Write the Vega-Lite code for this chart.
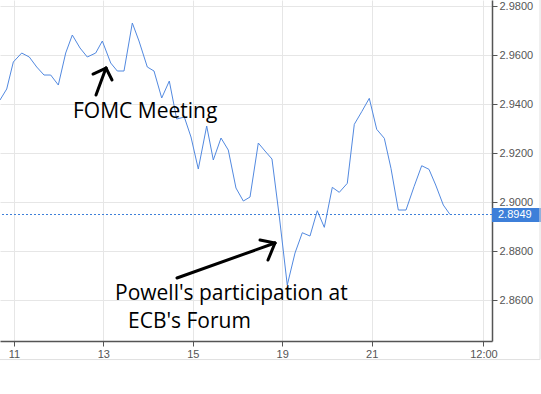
{
  "$schema": "https://vega.github.io/schema/vega-lite/v6.json",
  "width": 492,
  "height": 341,
  "autosize": "none",
  "padding": {"left": 0, "top": 0, "right": 49, "bottom": 53},
  "background": "white",
  "config": {"view": {"stroke": null}},
  "datasets": {
    "yield": [
      {"t": -0.311, "v": 2.94163}, {"t": -0.161, "v": 2.94612}, {"t": -0.013, "v": 2.95714}, {"t": 0.174, "v": 2.96081},
      {"t": 0.344, "v": 2.95918}, {"t": 0.510, "v": 2.9551}, {"t": 0.673, "v": 2.95183}, {"t": 0.823, "v": 2.95183},
      {"t": 0.993, "v": 2.94775}, {"t": 1.158, "v": 2.96081}, {"t": 1.306, "v": 2.96816}, {"t": 1.478, "v": 2.96286},
      {"t": 1.641, "v": 2.95918}, {"t": 1.829, "v": 2.96081}, {"t": 1.977, "v": 2.96571}, {"t": 2.165, "v": 2.95673},
      {"t": 2.312, "v": 2.95347}, {"t": 2.462, "v": 2.95347}, {"t": 2.648, "v": 2.97306}, {"t": 2.797, "v": 2.96571},
      {"t": 2.983, "v": 2.9551}, {"t": 3.133, "v": 2.95347}, {"t": 3.305, "v": 2.94245}, {"t": 3.475, "v": 2.94938},
      {"t": 3.640, "v": 2.93387}, {"t": 3.810, "v": 2.93469}, {"t": 3.960, "v": 2.92653}, {"t": 4.123, "v": 2.91346},
      {"t": 4.311, "v": 2.93102}, {"t": 4.459, "v": 2.91714}, {"t": 4.631, "v": 2.92612}, {"t": 4.794, "v": 2.92122},
      {"t": 4.966, "v": 2.90571}, {"t": 5.130, "v": 2.9004}, {"t": 5.280, "v": 2.90203}, {"t": 5.465, "v": 2.92408},
      {"t": 5.615, "v": 2.92081}, {"t": 5.771, "v": 2.91755}, {"t": 5.939, "v": 2.89346}, {"t": 6.113, "v": 2.86611},
      {"t": 6.286, "v": 2.87917}, {"t": 6.449, "v": 2.88746}, {"t": 6.621, "v": 2.88611}, {"t": 6.784, "v": 2.89644},
      {"t": 6.941, "v": 2.88966}, {"t": 7.120, "v": 2.90599}, {"t": 7.276, "v": 2.90395}, {"t": 7.455, "v": 2.90763},
      {"t": 7.612, "v": 2.93171}, {"t": 7.777, "v": 2.93685}, {"t": 7.947, "v": 2.94232}, {"t": 8.113, "v": 2.92967},
      {"t": 8.283, "v": 2.926}, {"t": 8.432, "v": 2.91375}, {"t": 8.596, "v": 2.89673}, {"t": 8.768, "v": 2.89673},
      {"t": 8.947, "v": 2.90624}, {"t": 9.119, "v": 2.91481}, {"t": 9.282, "v": 2.91334}, {"t": 9.432, "v": 2.90693},
      {"t": 9.602, "v": 2.89877}, {"t": 9.752, "v": 2.8949}
    ],
    "arrows": [
      {"t": 1.836, "v": 2.94367, "t2": 2.059, "v2": 2.95469},
      {"t": 1.769, "v": 2.95224, "t2": 2.059, "v2": 2.95469},
      {"t": 2.194, "v": 2.94979, "t2": 2.059, "v2": 2.95469},
      {"t": 3.647, "v": 2.86897, "t2": 5.838, "v2": 2.88326},
      {"t": 5.503, "v": 2.88448, "t2": 5.838, "v2": 2.88326},
      {"t": 5.682, "v": 2.87632, "t2": 5.838, "v2": 2.88326}
    ],
    "notes": [
      {"t": 1.3216, "v": 2.93428, "label": "FOMC Meeting"},
      {"t": 2.2607, "v": 2.86, "label": "Powell's participation at"},
      {"t": 2.551, "v": 2.84856, "label": "ECB's Forum"}
    ],
    "last": [{"v": 2.8949, "label": "2.8949"}]
  },
  "layer": [
    {
      "data": {"name": "yield"},
      "mark": {"type": "line", "color": "#5289e0", "strokeWidth": 1, "interpolate": "linear"},
      "encoding": {
        "x": {
          "field": "t", "type": "quantitative",
          "scale": {"domain": [-0.311, 10.691], "nice": false, "zero": false},
          "axis": {
            "title": null, "orient": "bottom",
            "values": [0, 2, 4, 6, 8, 10.5],
            "labelExpr": "datum.value == 0 ? '11' : datum.value == 2 ? '13' : datum.value == 4 ? '15' : datum.value == 6 ? '19' : datum.value == 8 ? '21' : '12:00'",
            "grid": true, "gridColor": "#e6e6e6", "gridWidth": 1,
            "domainColor": "#555555", "domainWidth": 1.5,
            "tickColor": "#555555", "tickSize": 5,
            "labelColor": "#555555", "labelFont": "Liberation Sans", "labelFontSize": 11,
            "labelPadding": 2, "labelFlush": false, "labelOverlap": false
          }
        },
        "y": {
          "field": "v", "type": "quantitative",
          "scale": {"domain": [2.84327, 2.98245], "nice": false, "zero": false},
          "axis": {
            "title": null, "orient": "right",
            "values": [2.86, 2.88, 2.90, 2.92, 2.94, 2.96, 2.98],
            "format": ".4f",
            "grid": true, "gridColor": "#e6e6e6", "gridWidth": 1,
            "domainColor": "#555555", "domainWidth": 1.5,
            "tickColor": "#555555", "tickSize": 5,
            "labelColor": "#555555", "labelFont": "Liberation Sans", "labelFontSize": 11,
            "labelPadding": 2, "labelFlush": false, "labelOverlap": false
          }
        }
      }
    },
    {
      "data": {"name": "last"},
      "mark": {"type": "rule", "color": "#3d7fd9", "strokeWidth": 1, "strokeDash": [2, 2]},
      "encoding": {"y": {"field": "v", "type": "quantitative", "title": null}}
    },
    {
      "data": {"name": "last"},
      "mark": {"type": "rect", "color": "#3d7fd9", "clip": false},
      "encoding": {
        "x": {"datum": 10.691}, "x2": {"datum": 11.82},
        "y": {"datum": 2.89755}, "y2": {"datum": 2.89183}
      }
    },
    {
      "data": {"name": "last"},
      "mark": {"type": "text", "color": "white", "font": "Liberation Sans", "fontSize": 11, "align": "left", "baseline": "middle"},
      "encoding": {
        "x": {"datum": 10.825},
        "y": {"field": "v", "type": "quantitative", "title": null},
        "text": {"field": "label"}
      }
    },
    {
      "data": {"name": "last"},
      "mark": {"type": "rule", "color": "#e0e0e0", "strokeWidth": 1},
      "encoding": {
        "x": {"datum": 11.765},
        "y": {"datum": 2.98245}, "y2": {"datum": 2.8357}
      }
    },
    {
      "data": {"name": "last"},
      "mark": {"type": "rule", "color": "#e0e0e0", "strokeWidth": 1},
      "encoding": {
        "x": {"datum": -0.311}, "x2": {"datum": 11.765},
        "y": {"datum": 2.8357}
      }
    },
    {
      "data": {"name": "arrows"},
      "mark": {"type": "rule", "color": "black", "strokeWidth": 3, "strokeCap": "round"},
      "encoding": {
        "x": {"field": "t", "type": "quantitative", "title": null},
        "x2": {"field": "t2"},
        "y": {"field": "v", "type": "quantitative", "title": null},
        "y2": {"field": "v2"}
      }
    },
    {
      "data": {"name": "notes"},
      "mark": {"type": "text", "color": "black", "font": "Open Sans", "fontSize": 21, "align": "left", "baseline": "alphabetic"},
      "encoding": {
        "x": {"field": "t", "type": "quantitative", "title": null},
        "y": {"field": "v", "type": "quantitative", "title": null},
        "text": {"field": "label"}
      }
    }
  ]
}
